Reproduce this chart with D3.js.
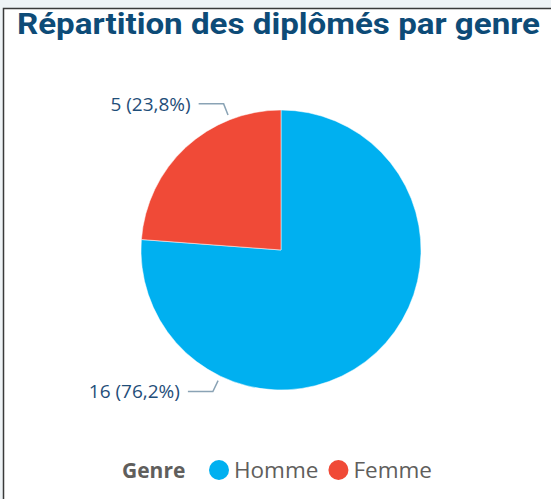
<!DOCTYPE html>
<html>
<head>
<meta charset="utf-8">
<script src="https://cdn.jsdelivr.net/npm/d3@7"></script>
<style>
  html, body { margin: 0; padding: 0; background: #eef3f6; overflow: hidden; }
  #graphic { width: 551px; height: 499px; }
</style>
</head>
<body>
<div id="graphic"></div>
<script>
var graphic = d3.select('#graphic');

// data
var categories = ['Homme', 'Femme'];
var values = [16, 5];
var percents = ['76,2%', '23,8%'];
var colours = ['#00b0f0', '#f04a37'];
var legendTitle = 'Genre';
var titleText = 'Répartition des diplômés par genre';

function drawGraphic() {
  graphic.selectAll('*').remove();

  var width = 551, height = 499;
  var svg = graphic.append('svg')
    .attr('width', width)
    .attr('height', height);

  // panel with dark border
  svg.append('rect')
    .attr('x', 3.5).attr('y', 8.5)
    .attr('width', width + 10).attr('height', height + 10)
    .attr('fill', '#ffffff')
    .attr('stroke', '#3a3a3a')
    .attr('stroke-width', 1.5);

  svg.append('text')
    .attr('x', 17).attr('y', 34)
    .attr('textLength', 523)
    .attr('lengthAdjust', 'spacingAndGlyphs')
    .style('font-family', 'Roboto, sans-serif')
    .style('font-weight', 'bold')
    .style('font-size', '29.5px')
    .attr('fill', '#0d4b77')
    .text(titleText);

  var cx = 281, cy = 250, radius = 140;

  var pie = d3.pie().sort(null).value(d => d.value);
  var arc = d3.arc().innerRadius(0).outerRadius(radius);

  var data = categories.map((c, i) => ({ name: c, value: values[i], pct: percents[i], colour: colours[i] }));
  var arcs = pie(data);

  var chart = svg.append('g').attr('transform', 'translate(' + cx + ',' + cy + ')');

  chart.selectAll('path.slice')
    .data(arcs)
    .join('path')
    .attr('class', 'slice')
    .attr('d', arc)
    .attr('fill', d => d.data.colour)
    .attr('stroke', '#ffffff')
    .attr('stroke-width', 0.5);

  // leader lines: anchor at 3/4 through each slice
  function pt(a, r) { return [r * Math.sin(a), -r * Math.cos(a)]; }
  arcs.forEach(function(d) {
    var a = d.startAngle + 0.75 * (d.endAngle - d.startAngle);
    var p1 = pt(a, radius + 5);
    var p2 = pt(a, radius + 17);
    var p3 = [p2[0] - 25, p2[1]];
    chart.append('polyline')
      .attr('points', [p1, p2, p3].map(p => p.join(',')).join(' '))
      .attr('fill', 'none')
      .attr('stroke', '#8aa3b5')
      .attr('stroke-width', 1.5);
    chart.append('text')
      .attr('x', p3[0] - 8)
      .attr('y', p3[1])
      .attr('dy', '0.36em')
      .attr('text-anchor', 'end')
      .style('font-family', '"Open Sans", sans-serif')
      .style('font-size', '19px')
      .attr('fill', '#1f4e79')
      .text(d.data.value + ' (' + d.data.pct + ')');
  });

  // legend
  var legend = svg.append('g').attr('transform', 'translate(0,478)');
  legend.append('text')
    .attr('x', 122).attr('y', 0)
    .style('font-family', '"Open Sans", sans-serif')
    .style('font-weight', 'bold')
    .style('font-size', '21px')
    .attr('fill', '#605e5c')
    .text(legendTitle);

  var lx = 209;
  data.forEach(function(d) {
    legend.append('circle')
      .attr('cx', lx + 10).attr('cy', -8)
      .attr('r', 10)
      .attr('fill', d.colour);
    var t = legend.append('text')
      .attr('x', lx + 25).attr('y', 0)
      .style('font-family', '"Open Sans", sans-serif')
      .style('font-size', '22.5px')
      .attr('fill', '#605e5c')
      .text(d.name);
    lx += 25 + t.node().getComputedTextLength() + 10;
  });
}

drawGraphic();
</script>
</body>
</html>
